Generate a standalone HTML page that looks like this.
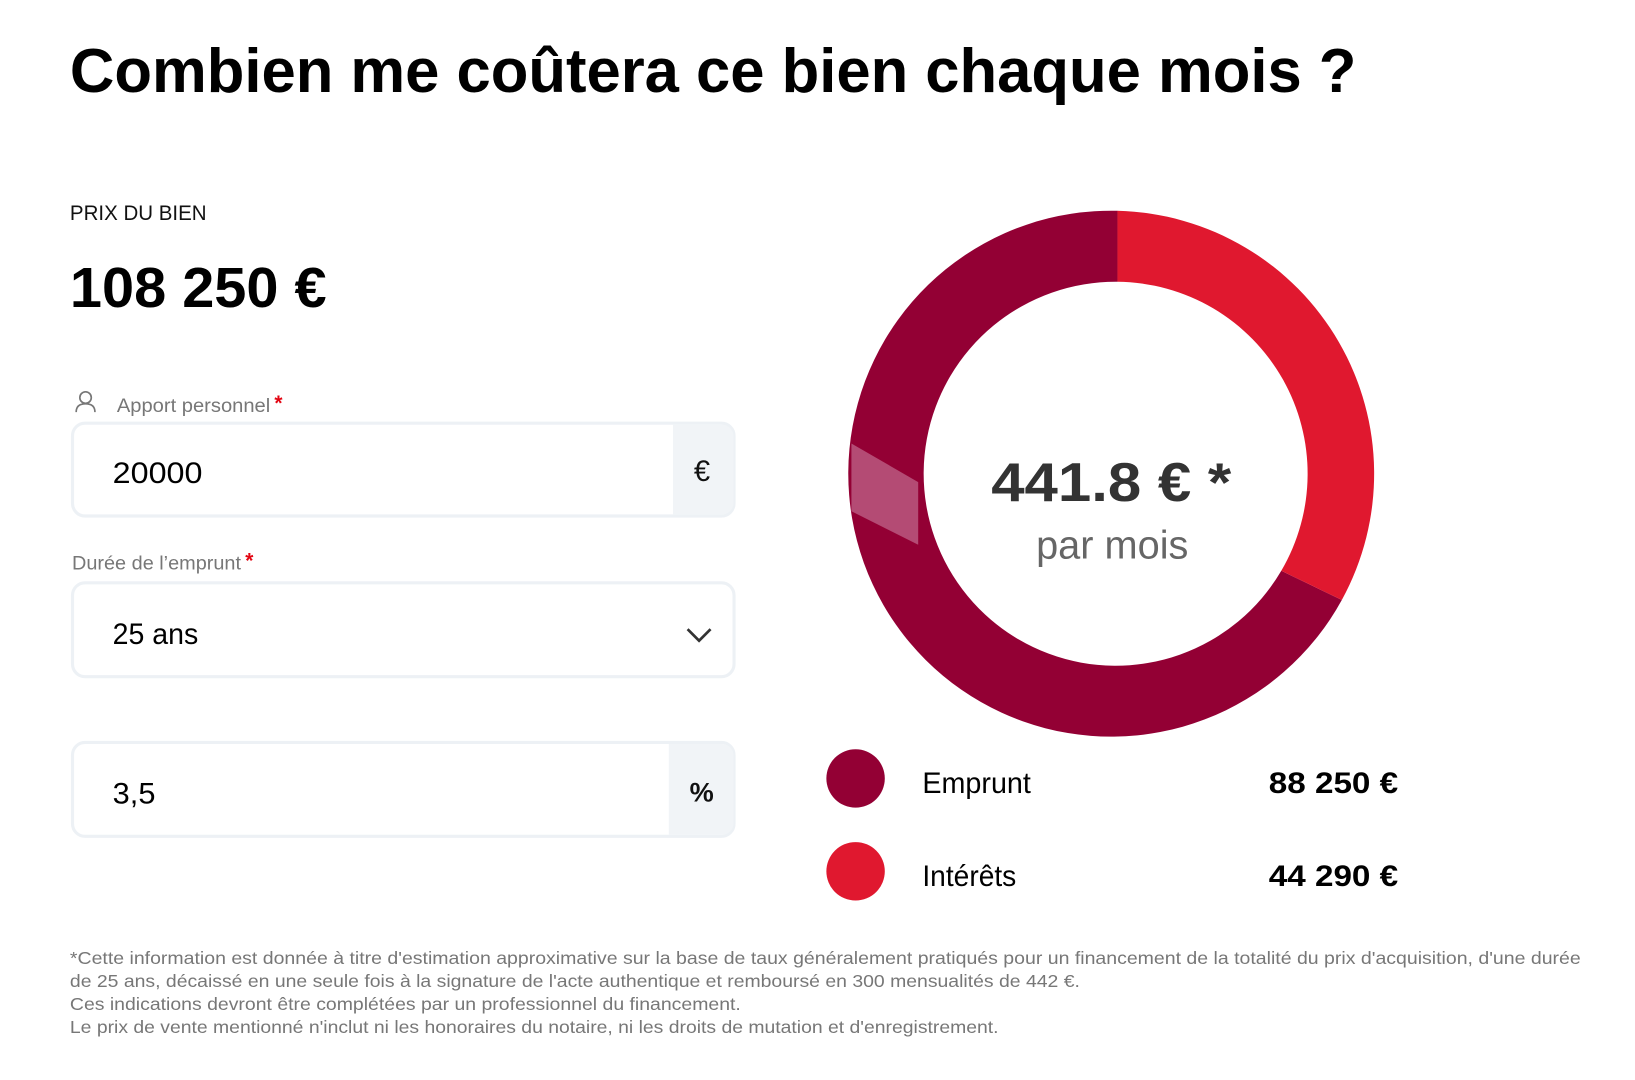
<!DOCTYPE html>
<html><head><meta charset="utf-8"><style>html,body{margin:0;padding:0;background:#fff;}svg{display:block;}</style></head>
<body>
<svg width="1635" height="1080" viewBox="0 0 1567 1035" preserveAspectRatio="none" xmlns="http://www.w3.org/2000/svg" font-family="Liberation Sans, sans-serif">
<text x="67" y="88" font-size="60" font-weight="bold" fill="#000" textLength="1233" lengthAdjust="spacingAndGlyphs">Combien me coûtera ce bien chaque mois ?</text>
<text x="67" y="211" font-size="20" fill="#111" textLength="131" lengthAdjust="spacingAndGlyphs">PRIX DU BIEN</text>
<text x="67" y="294" font-size="54" font-weight="bold" fill="#000" textLength="246" lengthAdjust="spacingAndGlyphs">108 250 €</text>
<circle cx="82" cy="381" r="5.5" fill="none" stroke="#777" stroke-width="1.6"/>
<path d="M73 395 Q73 387 82 387 Q91 387 91 395" fill="none" stroke="#777" stroke-width="1.6"/>
<text x="112" y="395" font-size="19" fill="#777" textLength="147" lengthAdjust="spacingAndGlyphs">Apport personnel</text>
<text x="263" y="393" font-size="20" font-weight="bold" fill="#e30613">*</text>
<rect x="69.5" y="405.5" width="634" height="89" rx="12" fill="#fff" stroke="#edf1f5" stroke-width="3"/>
<path d="M645 407 H692 A11 11 0 0 1 703 418 V482 A11 11 0 0 1 692 493 H645 Z" fill="#f1f4f7"/>
<text x="108" y="463" font-size="28" fill="#000" textLength="86" lengthAdjust="spacingAndGlyphs">20000</text>
<text x="665" y="461" font-size="28" fill="#111">€</text>
<text x="69" y="546" font-size="19" fill="#777" textLength="162" lengthAdjust="spacingAndGlyphs">Durée de l’emprunt</text>
<text x="235" y="544" font-size="20" font-weight="bold" fill="#e30613">*</text>
<rect x="69.5" y="558.5" width="634" height="90" rx="12" fill="#fff" stroke="#edf1f5" stroke-width="3"/>
<text x="108" y="617" font-size="28" fill="#000" textLength="82" lengthAdjust="spacingAndGlyphs">25 ans</text>
<path d="M659 603 L670 614 L681 603" fill="none" stroke="#333" stroke-width="2.6"/>
<rect x="69.5" y="711.5" width="634" height="90" rx="12" fill="#fff" stroke="#edf1f5" stroke-width="3"/>
<path d="M641 713 H692 A11 11 0 0 1 703 724 V789 A11 11 0 0 1 692 800 H641 Z" fill="#f1f4f7"/>
<text x="108" y="770" font-size="28" fill="#000" textLength="41" lengthAdjust="spacingAndGlyphs">3,5</text>
<text x="661" y="768" font-size="26" font-weight="bold" fill="#111">%</text>
<path d="M1071 202 A252 252 0 1 0 1286 575 L1228 547 A184 184 0 1 1 1071 270 Z" fill="#930034"/>
<path d="M1071 202 A252 252 0 0 1 1286 575 L1228 547 A184 184 0 0 0 1071 270 Z" fill="#e0182f"/>
<polygon points="816,425 880,462 880,522 816,490" fill="#b44b74"/>
<text x="1065" y="480" font-size="52" font-weight="bold" fill="#333" text-anchor="middle" textLength="230" lengthAdjust="spacingAndGlyphs">441.8 € *</text>
<text x="1066" y="535" font-size="38" fill="#666" text-anchor="middle" textLength="146" lengthAdjust="spacingAndGlyphs">par mois</text>
<circle cx="820" cy="746" r="28" fill="#930034"/>
<text x="884" y="760" font-size="28" fill="#000" textLength="104" lengthAdjust="spacingAndGlyphs">Emprunt</text>
<text x="1216" y="760" font-size="28" font-weight="bold" fill="#000" textLength="124" lengthAdjust="spacingAndGlyphs">88 250 €</text>
<circle cx="820" cy="835" r="28" fill="#e0182f"/>
<text x="884" y="849" font-size="28" fill="#000" textLength="90" lengthAdjust="spacingAndGlyphs">Intérêts</text>
<text x="1216" y="849" font-size="28" font-weight="bold" fill="#000" textLength="124" lengthAdjust="spacingAndGlyphs">44 290 €</text>
<g font-size="17" fill="#777">
<text x="67" y="924" textLength="1448" lengthAdjust="spacingAndGlyphs">*Cette information est donnée à titre d'estimation approximative sur la base de taux généralement pratiqués pour un financement de la totalité du prix d'acquisition, d'une durée</text>
<text x="67" y="946" textLength="968" lengthAdjust="spacingAndGlyphs">de 25 ans, décaissé en une seule fois à la signature de l'acte authentique et remboursé en 300 mensualités de 442 €.</text>
<text x="67" y="968" textLength="643" lengthAdjust="spacingAndGlyphs">Ces indications devront être complétées par un professionnel du financement.</text>
<text x="67" y="990" textLength="890" lengthAdjust="spacingAndGlyphs">Le prix de vente mentionné n'inclut ni les honoraires du notaire, ni les droits de mutation et d'enregistrement.</text>
</g>
</svg>
</body></html>
